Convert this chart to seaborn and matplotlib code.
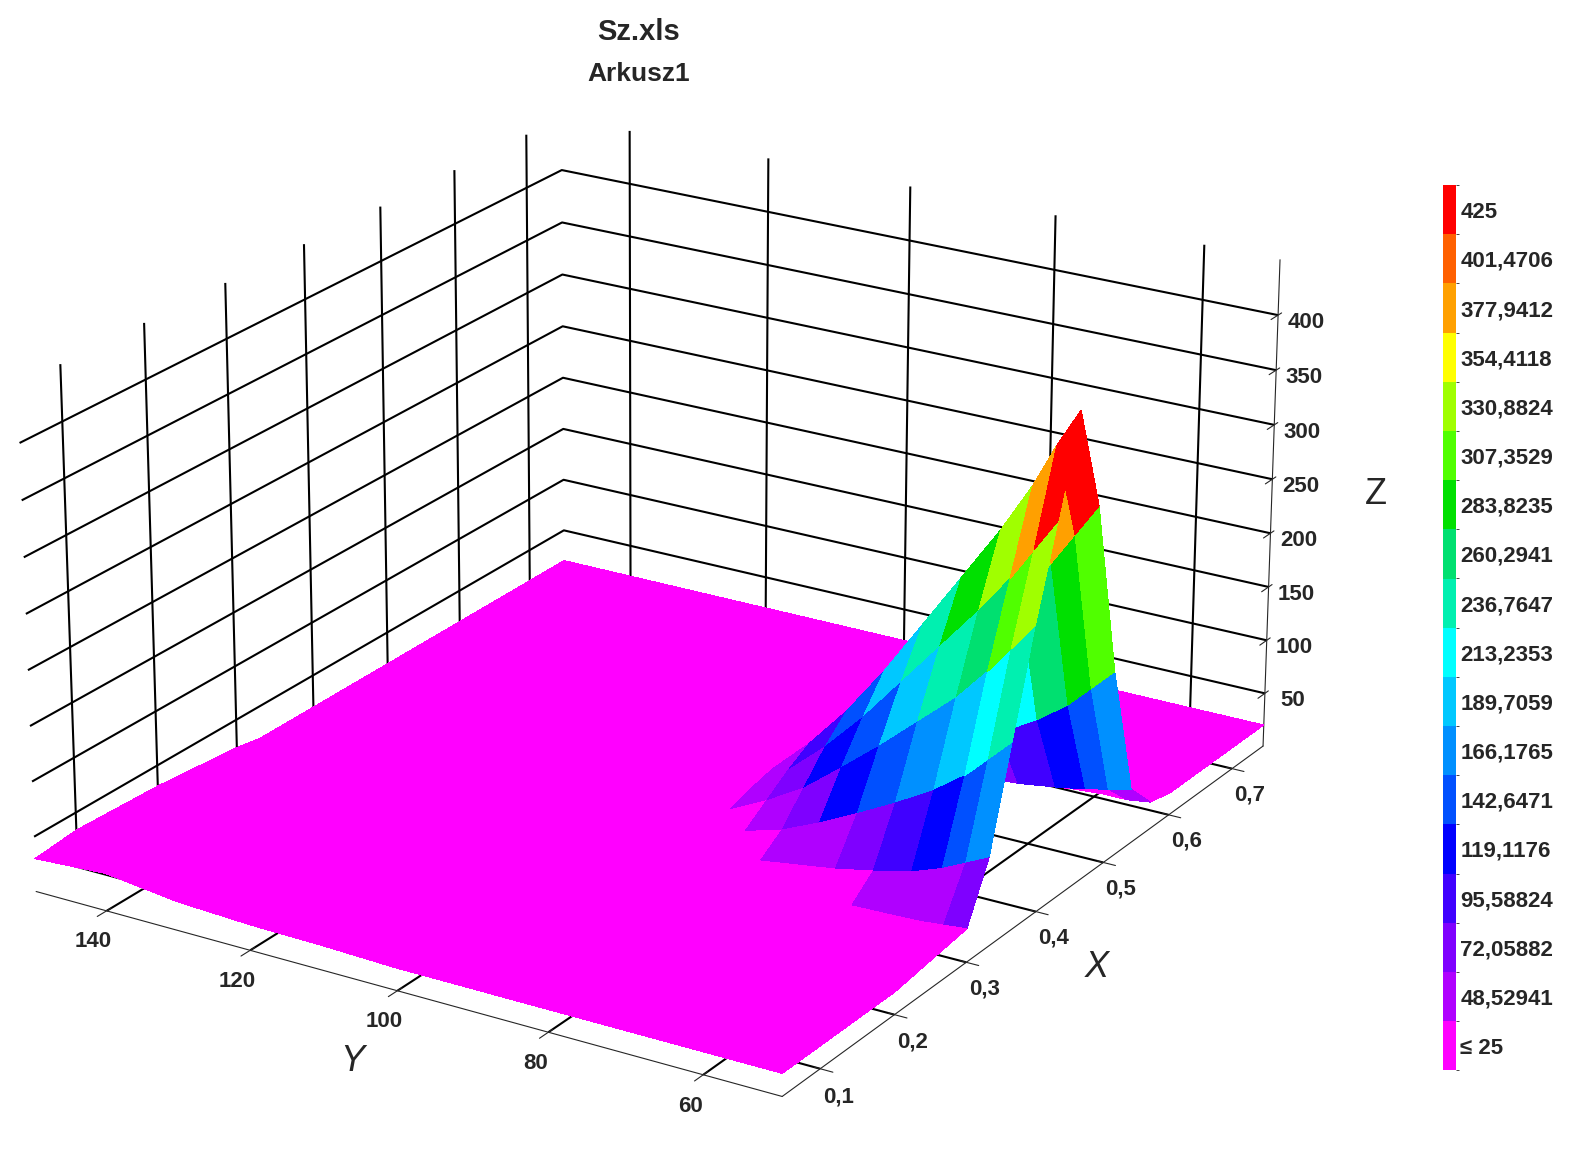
import numpy as np
import matplotlib
matplotlib.use("Agg")
import matplotlib.pyplot as plt
import seaborn as sns
from matplotlib.colors import ListedColormap, BoundaryNorm

sns.set_style("white")
plt.rcParams["font.family"] = ["Liberation Sans", "DejaVu Sans"]
plt.rcParams["font.weight"] = "bold"

x_vals = [0.05, 0.1, 0.2, 0.3, 0.33, 0.36, 0.39, 0.42, 0.45, 0.48, 0.51, 0.54, 0.57, 0.6, 0.7, 0.75]
y_vals = [50, 53, 56, 60, 65, 70, 75, 80, 85, 90, 100, 110, 120, 130, 140, 150]
# z[i_y][i_x]
z_vals = [
    [20, 20, 20, 30, 80, 170, 260, 340, 425, 330, 170, 50, 25, 20, 20, 20],
    [20, 20, 20, 28, 70, 150, 235, 310, 390, 300, 150, 45, 22, 20, 20, 20],
    [20, 20, 20, 26, 60, 130, 210, 280, 350, 270, 130, 40, 22, 20, 20, 20],
    [20, 20, 20, 25, 50, 110, 180, 245, 305, 235, 110, 35, 20, 20, 20, 20],
    [20, 20, 20, 24, 42, 90, 150, 205, 255, 195, 90, 30, 20, 20, 20, 20],
    [20, 20, 20, 22, 35, 72, 120, 165, 205, 155, 72, 28, 20, 20, 20, 20],
    [20, 20, 20, 21, 30, 55, 92, 125, 155, 118, 55, 25, 20, 20, 20, 20],
    [20, 20, 20, 20, 25, 40, 65, 90, 110, 85, 40, 22, 20, 20, 20, 20],
    [20, 20, 20, 20, 22, 30, 45, 60, 72, 55, 30, 20, 20, 20, 20, 20],
    [20, 20, 20, 20, 20, 22, 28, 35, 40, 32, 22, 20, 20, 20, 20, 20],
    [20, 20, 20, 20, 20, 20, 20, 20, 20, 20, 20, 20, 20, 20, 20, 20],
    [22, 22, 22, 20, 20, 20, 20, 20, 20, 20, 20, 20, 20, 20, 20, 20],
    [23, 24, 23, 21, 20, 20, 20, 20, 20, 20, 20, 20, 20, 20, 20, 20],
    [26, 28, 26, 22, 20, 20, 20, 20, 20, 20, 20, 20, 20, 20, 20, 20],
    [34, 38, 35, 26, 21, 20, 20, 20, 20, 20, 20, 20, 20, 20, 20, 20],
    [30, 34, 31, 24, 20, 20, 20, 20, 20, 20, 20, 20, 20, 20, 20, 20],
]
levels = [25, 48.52941, 72.05882, 95.58824, 119.1176, 142.6471, 166.1765,
          189.7059, 213.2353, 236.7647, 260.2941, 283.8235, 307.3529,
          330.8824, 354.4118, 377.9412, 401.4706, 425]
level_labels = ["≤ 25", "48,52941", "72,05882", "95,58824", "119,1176",
                "142,6471", "166,1765", "189,7059", "213,2353", "236,7647",
                "260,2941", "283,8235", "307,3529", "330,8824", "354,4118",
                "377,9412", "401,4706", "425"]
colors = ["#ff00ff", "#b000ff", "#7f00ff", "#4000ff", "#0000ff", "#0050ff",
          "#0090ff", "#00c8ff", "#00ffff", "#00f0b0", "#00e070", "#00e000",
          "#50ff00", "#a0ff00", "#ffff00", "#ffa000", "#ff6000", "#ff0000"]

cmap = ListedColormap(colors)
bounds = [-1000] + levels[1:] + [1000]
norm = BoundaryNorm(bounds, cmap.N)

X, Y = np.meshgrid(np.array(x_vals), np.array(y_vals))
Z = np.array(z_vals, dtype=float)
# colour each face by the highest of its four corners
Zc = np.maximum.reduce([Z[:-1, :-1], Z[1:, :-1], Z[:-1, 1:], Z[1:, 1:]])
fc = np.ones(Z.shape + (4,))
fc[:-1, :-1] = cmap(norm(Zc))

fig = plt.figure(figsize=(15.77, 11.57), dpi=100)
ax = fig.add_axes([-0.02, -0.07, 0.86, 1.12], projection="3d")
ax.plot_surface(X, Y, Z, facecolors=fc, rstride=1, cstride=1,
                linewidth=0, shade=False, antialiased=False)
ax.set_xlim(0.05, 0.75)
ax.set_ylim(50, 150)
ax.set_zlim(0, 450)
ax.set_box_aspect((1.12, 1, 0.62), zoom=1.05)
ax.view_init(elev=22, azim=-148)
ax.zaxis._axinfo["juggled"] = (1, 2, 0)
ax.set_xticks([0.1, 0.2, 0.3, 0.4, 0.5, 0.6, 0.7])
ax.set_xticklabels(["0,1", "0,2", "0,3", "0,4", "0,5", "0,6", "0,7"], fontsize=16)
ax.set_yticks([60, 80, 100, 120, 140])
ax.set_yticklabels(["60", "80", "100", "120", "140"], fontsize=16)
ax.set_zticks([50, 100, 150, 200, 250, 300, 350, 400])
ax.set_zticklabels([str(v) for v in [50, 100, 150, 200, 250, 300, 350, 400]], fontsize=16)
ax.set_xlabel("X", fontsize=26, labelpad=18, style="italic")
ax.set_ylabel("Y", fontsize=26, labelpad=18, style="italic")
ax.set_zlabel("Z", fontsize=26, labelpad=22)
for a in (ax.xaxis, ax.yaxis, ax.zaxis):
    a.set_pane_color((1, 1, 1, 0))
    a._axinfo["grid"]["color"] = "black"
    a._axinfo["grid"]["linewidth"] = 1.5

fig.text(0.405, 0.965, "Sz.xls", ha="center", fontsize=21, fontweight="bold")
fig.text(0.405, 0.93, "Arkusz1", ha="center", fontsize=19, fontweight="bold")

cax = fig.add_axes([0.915, 0.075, 0.008, 0.765])
cb = matplotlib.colorbar.ColorbarBase(cax, cmap=cmap, norm=BoundaryNorm(range(19), 18),
                                      boundaries=range(19), orientation="vertical")
cb.set_ticks([i + 0.5 for i in range(18)])
cb.set_ticklabels(level_labels)
cb.ax.tick_params(labelsize=16, length=0)
cb.outline.set_visible(False)

fig.savefig("out.png", dpi=100)
